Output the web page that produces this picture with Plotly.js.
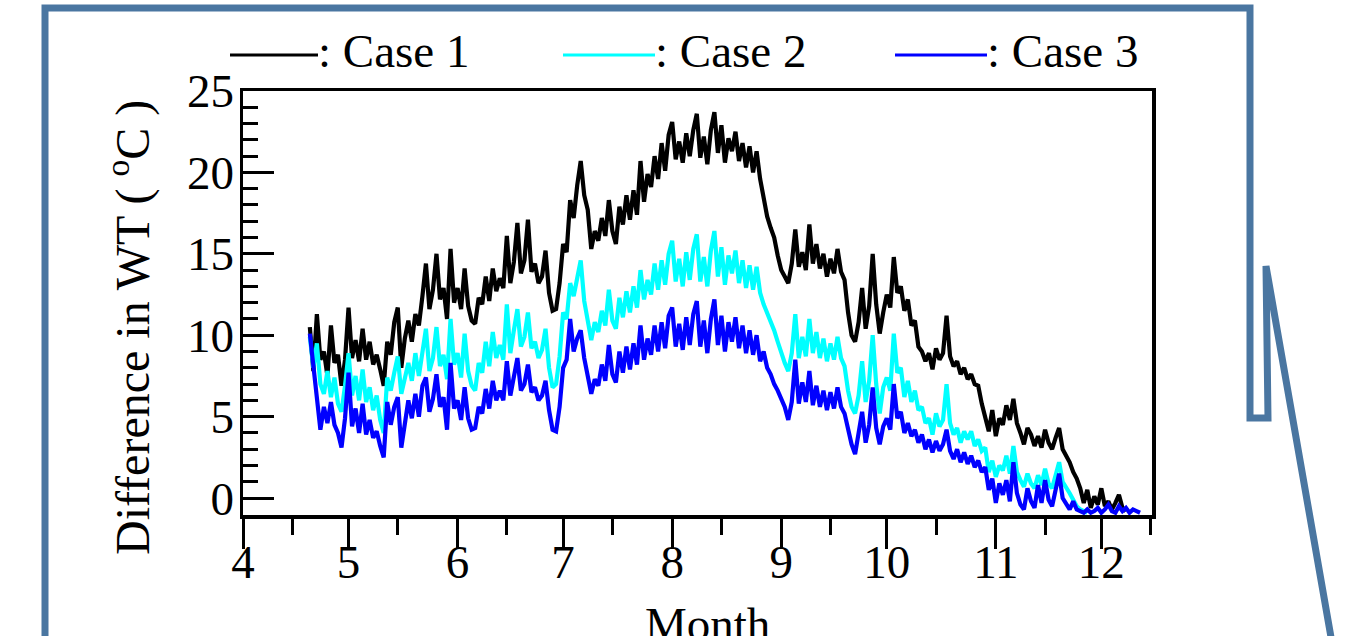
<!DOCTYPE html>
<html>
<head>
<meta charset="utf-8">
<script src="https://cdn.plot.ly/plotly-3.0.1.min.js"></script>
<style>
  html, body { margin: 0; padding: 0; background: #ffffff; }
  #chart { width: 1349px; height: 636px; }
</style>
</head>
<body>
<div id="chart"></div>
<script>
// ---------------- DATA ----------------
// x axis: day of year; month starts and mid-month minor ticks
const monthStartDays = [91, 121, 152, 182, 213, 244, 274, 305, 335];
const monthLabels = ["4", "5", "6", "7", "8", "9", "10", "11", "12"];
const midMonthDays = [105, 135, 166, 196, 227, 258, 288, 319, 349];

const seriesNames = ["Case 1", "Case 2", "Case 3"];
const seriesColors = ["#000000", "#00ffff", "#0000ff"];

// daily values, first value on day-of-year 110 (20 April)
const firstDay = 110;

const case1 = [
  10.5, 7.8, 11.3, 8.5, 9.0, 7.5, 10.6, 8.3, 8.8, 6.9,
  8.5, 11.7, 8.6, 9.7, 8.4, 10.4, 8.5, 9.6, 8.2, 8.8,
  7.9, 6.9, 9.6, 8.8, 10.8, 11.7, 8.0, 9.8, 10.9, 9.6,
  11.3, 10.6, 12.4, 14.4, 11.6, 12.8, 15.0, 12.2, 12.9, 11.0,
  15.3, 12.0, 12.9, 11.6, 14.1, 11.8, 10.9, 10.7, 12.3, 11.9,
  13.6, 12.1, 14.1, 12.7, 13.5, 12.9, 16.1, 13.2, 14.5, 16.9,
  13.8, 14.6, 17.1, 13.9, 14.4, 13.2, 13.6, 15.2, 12.6, 11.5,
  11.6, 13.2, 15.6, 15.1, 18.3, 17.2, 19.2, 20.7, 18.6, 17.7,
  15.3, 16.4, 15.8, 17.2, 16.1, 18.3, 16.4, 15.6, 17.9, 16.8,
  18.6, 17.1, 18.9, 17.4, 20.7, 18.2, 19.9, 19.1, 21.0, 19.6,
  21.8, 20.1, 22.3, 23.1, 20.8, 21.9, 20.6, 22.4, 21.0, 22.6,
  23.6, 20.9, 22.2, 20.5, 22.6, 23.7, 21.2, 22.9, 20.6, 22.1,
  21.3, 22.5, 20.7, 21.8, 20.3, 21.6, 20.0, 21.3, 19.6, 18.3,
  17.3, 16.6, 16.0, 14.9, 14.0, 13.6, 13.2, 14.4, 16.5, 14.2,
  15.1, 14.0, 16.8, 14.4, 15.6, 14.1, 15.0, 13.6, 14.7, 13.8,
  15.3, 13.9, 13.4, 11.4, 10.0, 9.6, 10.8, 12.9, 10.4, 11.8,
  15.0, 11.9, 10.1, 11.4, 12.5, 11.7, 14.8, 12.6, 13.0, 11.5,
  12.2, 10.6, 10.9, 9.3, 9.0, 8.4, 8.9, 7.9, 9.2, 8.5,
  8.9, 11.2, 8.7, 8.1, 8.4, 7.6, 8.0, 7.3, 7.6, 7.0,
  6.9, 5.8, 5.0, 4.1, 5.4, 3.8, 4.9, 4.5, 5.7, 4.8,
  6.1, 4.6, 4.0, 3.3, 4.3, 3.9, 3.2, 3.8, 3.1, 4.2,
  3.4, 3.0, 3.7, 4.3, 3.0, 2.6, 2.2, 1.6, 1.2, 0.6,
  -0.3, 0.5, -0.6, 0.1, -0.4, 0.6, -0.5, -0.2, -0.7, -0.3, 0.2, -0.6, -0.8
];

const case2 = [
  9.9, 8.0, 9.5, 7.0, 6.4, 7.8, 6.2, 7.4, 5.8, 5.3,
  6.9, 8.9, 6.3, 7.5, 6.0, 7.9, 5.9, 6.8, 5.4, 6.3,
  4.8, 4.0, 7.4, 6.6, 7.7, 8.7, 6.4, 7.5, 8.3, 7.2,
  8.9, 7.5, 9.0, 10.4, 7.8, 8.6, 10.5, 8.1, 8.8, 7.3,
  11.0, 8.2, 8.9, 7.4, 10.1, 7.8, 6.9, 6.6, 8.3, 7.7,
  9.6, 8.1, 10.2, 8.6, 9.4, 8.5, 11.9, 8.9, 10.3, 11.6,
  9.3, 9.9, 11.4, 9.2, 9.6, 8.6, 9.1, 10.4, 8.0, 6.8,
  7.0, 8.7, 11.4, 11.0, 13.2, 12.4, 13.5, 14.6, 12.1, 11.0,
  9.7, 10.8, 10.2, 11.5, 10.6, 12.8, 10.9, 10.4, 12.3, 11.1,
  12.7, 11.4, 13.0, 11.7, 14.0, 12.2, 13.4, 12.5, 14.4, 12.8,
  14.6, 13.1, 15.0, 15.8, 13.3, 14.7, 13.0, 15.1, 13.4, 15.3,
  16.2, 13.3, 14.8, 13.0, 15.2, 16.4, 13.6, 15.4, 13.1, 14.9,
  13.8, 15.2, 13.2, 14.6, 12.9, 14.3, 12.8, 14.2, 12.6, 11.9,
  11.4, 10.9, 10.3, 9.6, 8.9, 8.3, 7.8, 8.9, 11.3, 8.6,
  9.9, 8.7, 11.0, 8.9, 10.2, 8.6, 9.8, 8.4, 9.5, 8.5,
  9.9, 8.6, 8.1, 6.6, 5.6, 5.2, 6.3, 8.4, 5.9, 7.2,
  10.0, 7.0, 5.2, 6.8, 7.4, 6.6, 10.1, 7.7, 8.0, 6.2,
  7.2, 5.9, 6.6, 5.4, 5.6, 4.6, 4.9, 3.9, 5.2, 4.4,
  4.8, 7.0, 4.6, 3.9, 4.3, 3.4, 4.1, 3.6, 4.1, 3.2,
  3.6, 2.9, 3.1, 1.6, 2.3, 1.3, 2.0, 1.7, 2.6, 1.5,
  3.2, 1.6, 1.1, 0.7, 1.5, 0.9, 0.6, 1.4, 0.8, 1.8,
  0.9, 0.6, 1.4, 2.2, 1.0, 0.7, 0.3, -0.1, -0.5, -0.7, -0.8, -0.9
];

const case3 = [
  10.1, 8.2, 6.2, 4.2, 5.6, 4.6, 5.9, 4.5, 4.0, 3.1,
  4.9, 7.7, 4.4, 5.5, 4.0, 5.8, 3.9, 4.8, 3.7, 4.1,
  3.2, 2.5, 5.9, 4.5, 5.6, 6.2, 3.1, 4.8, 6.0, 4.9,
  6.4, 5.0, 6.9, 7.4, 5.3, 6.1, 7.6, 5.6, 6.2, 4.2,
  8.3, 5.5, 6.0, 4.8, 6.8, 4.9, 4.2, 4.3, 5.6, 5.2,
  6.7, 5.5, 7.2, 6.0, 6.6, 6.0, 8.4, 6.3, 7.4, 8.6,
  6.6, 7.0, 8.2, 6.5, 6.8, 6.0, 6.3, 7.2, 5.4, 4.2,
  4.1, 5.6, 8.0, 8.5, 11.0, 9.0, 9.8, 10.3, 8.6, 7.6,
  6.4, 7.3, 6.9, 8.2, 7.2, 9.4, 7.6, 7.1, 9.0, 7.7,
  9.3, 7.9, 9.5, 8.2, 10.6, 8.5, 9.8, 8.8, 10.6, 9.0,
  10.8, 9.2, 11.2, 11.7, 9.3, 10.7, 9.1, 11.1, 9.4, 11.3,
  12.1, 9.3, 10.9, 8.9, 11.0, 12.2, 9.4, 11.2, 9.0, 10.8,
  9.6, 11.1, 9.2, 10.6, 8.9, 10.3, 8.8, 10.0, 8.4, 9.0,
  8.0, 7.6, 7.0, 6.6, 6.1, 5.6, 4.8, 5.9, 8.5, 5.8,
  7.1, 5.9, 7.8, 5.7, 6.9, 5.6, 6.6, 5.4, 6.5, 5.5,
  6.8, 5.6, 5.2, 4.1, 3.3, 2.7, 3.9, 5.3, 3.4, 4.5,
  6.8, 4.3, 3.3, 4.4, 4.9, 4.2, 7.0, 4.9, 5.3, 4.0,
  4.6, 3.8, 4.2, 3.4, 3.9, 3.0, 3.6, 2.8, 3.5, 2.9,
  3.3, 4.2, 2.9, 2.4, 3.0, 2.2, 2.8, 2.1, 2.6, 1.9,
  2.3, 1.6, 1.9, 0.5, 1.2, -0.3, 0.9, 0.2, 1.1, -0.2,
  2.2, 0.3, -0.4, -0.7, 0.6, -0.2, -0.6, 0.8, -0.3, 1.1,
  -0.1, -0.5, 0.5, 1.5, 0.0, -0.4, -0.7, -0.2, -0.7, -0.8,
  -0.9, -0.7, -0.9, -0.8, -0.6, -0.9, -0.7, -0.4, -0.8, -0.9,
  -0.5, -0.8, -0.6, -0.9, -0.7, -0.8, -0.9
];

const yTickVals = [0, 5, 10, 15, 20, 25];
const yLabel = "Difference in WT ( <sup>o</sup>C )";
const xLabel = "Month";

// ---------------- CHART ----------------
const FONT = "Liberation Serif, Times New Roman, serif";
const FS = 47;

function daysFor(arr) { return arr.map((_, i) => firstDay + i); }

const allSeries = [case1, case2, case3];
const traces = allSeries.map((vals, k) => ({
  type: "scatter",
  mode: "lines",
  name: seriesNames[k],
  x: daysFor(vals),
  y: vals,
  line: { color: seriesColors[k], width: 4.2 },
  showlegend: false,
  hoverinfo: "skip"
}));

// plot-area geometry in pixels
const L = 243, R = 1152, T = 91, B = 515;
const W = R - L, H = B - T;
function px(xp) { return (xp - L) / W; }
function py(yp) { return (B - yp) / H; }
function P(xp, yp) { return px(xp).toFixed(5) + "," + py(yp).toFixed(5); }

const frameColor = "#4a76a1";
const shapes = [
  {
    type: "path", xref: "paper", yref: "paper", layer: "above",
    path: "M" + P(45, 700) + " L" + P(45, 8) + " L" + P(1250, 8) + " L" + P(1250, 418) +
          " L" + P(1268, 418) + " L" + P(1266, 266) + " L" + P(1335, 660),
    line: { color: frameColor, width: 7 }
  }
];

// legend drawn as sample line + text
const legendItems = [
  { x0: 230, x1: 318 },
  { x0: 563, x1: 655 },
  { x0: 895, x1: 987 }
];
const annotations = [];
legendItems.forEach((it, k) => {
  shapes.push({
    type: "line", xref: "paper", yref: "paper", layer: "above",
    x0: px(it.x0), x1: px(it.x1), y0: py(55), y1: py(55),
    line: { color: seriesColors[k], width: 3 }
  });
  annotations.push({
    xref: "paper", yref: "paper",
    x: px(it.x1 - 2), y: py(51),
    xanchor: "left", yanchor: "middle",
    text: ": " + seriesNames[k],
    showarrow: false,
    font: { family: FONT, size: FS, color: "#000000" }
  });
});

// axis titles placed where the reference has them
annotations.push({
  xref: "paper", yref: "paper",
  x: px(129), y: py(328),
  xanchor: "center", yanchor: "middle",
  textangle: -90,
  text: yLabel,
  showarrow: false,
  font: { family: FONT, size: 48, color: "#000000" }
});
annotations.push({
  xref: "paper", yref: "paper",
  x: px(707), y: py(624),
  xanchor: "center", yanchor: "middle",
  text: xLabel,
  showarrow: false,
  font: { family: FONT, size: FS, color: "#000000" }
});

const layout = {
  width: 1349,
  height: 636,
  autosize: false,
  margin: { l: L, r: 1349 - R, t: T, b: 636 - B, pad: 0 },
  paper_bgcolor: "#ffffff",
  plot_bgcolor: "#ffffff",
  font: { family: FONT, size: FS, color: "#000000" },
  showlegend: false,
  xaxis: {
    type: "linear",
    range: [91, 349.4],
    tickmode: "array",
    tickvals: monthStartDays,
    ticktext: monthLabels,
    ticks: "outside",
    ticklen: 30,
    tickwidth: 3,
    tickcolor: "#000000",
    ticklabelstandoff: -27,
    minor: {
      tickmode: "array",
      tickvals: midMonthDays,
      ticks: "outside",
      ticklen: 16,
      tickwidth: 3,
      tickcolor: "#000000"
    },
    showline: true,
    linecolor: "#000000",
    linewidth: 3.5,
    mirror: true,
    showgrid: false,
    zeroline: false,
    tickfont: { family: FONT, size: FS, color: "#000000" },
    automargin: false
  },
  yaxis: {
    range: [-1.04, 25],
    tickmode: "array",
    tickvals: yTickVals,
    ticks: "inside",
    ticklen: 31,
    tickwidth: 3,
    tickcolor: "#000000",
    ticklabelstandoff: -4,
    minor: {
      dtick: 1,
      tick0: 0,
      ticks: "inside",
      ticklen: 15,
      tickwidth: 3,
      tickcolor: "#000000"
    },
    showline: true,
    linecolor: "#000000",
    linewidth: 3.5,
    mirror: true,
    showgrid: false,
    zeroline: false,
    tickfont: { family: FONT, size: FS, color: "#000000" },
    automargin: false
  },
  shapes: shapes,
  annotations: annotations
};

Plotly.newPlot("chart", traces, layout, { displayModeBar: false, staticPlot: true });
</script>
</body>
</html>
